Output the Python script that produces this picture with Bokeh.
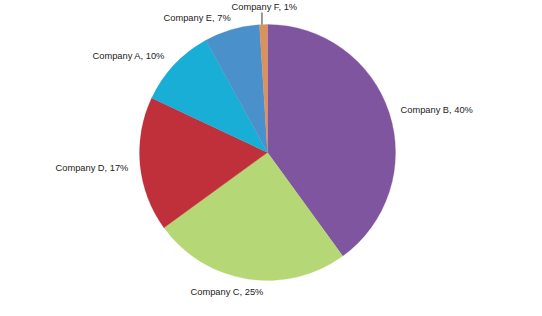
import math
from bokeh.plotting import figure
from bokeh.models import Range1d, ColumnDataSource
from bokeh.embed import file_html
from bokeh.resources import INLINE
from bokeh.core.properties import value

# Data (clockwise from 12 o'clock)
companies = ["Company B", "Company C", "Company D", "Company A", "Company E", "Company F"]
shares = [40, 25, 17, 10, 7, 1]
colors = ["#7f559f", "#b6d776", "#c0303a", "#18aed6", "#4a90ca", "#d9925e"]

# Layout (pixel space, y measured from top)
W, H = 542, 316
cx, cy, R = 267, 152, 128
label_pos = {  # left edge x, vertical centre y
    "Company B": (400, 109),
    "Company C": (190, 291),
    "Company D": (55, 167),
    "Company A": (92, 55),
    "Company E": (163, 17),
    "Company F": (231, 6),
}

total = float(sum(shares))
starts, ends = [], []
cum = 0.0
for s in shares:
    a0 = math.pi / 2 - 2 * math.pi * (cum + s) / total
    a1 = math.pi / 2 - 2 * math.pi * cum / total
    starts.append(a0)
    ends.append(a1)
    cum += s

src = ColumnDataSource(dict(start=starts, end=ends, color=colors))

p = figure(width=W, height=H, output_backend="svg", toolbar_location=None,
           x_range=Range1d(0, W), y_range=Range1d(0, H), min_border=0)
p.axis.visible = False
p.grid.visible = False
p.outline_line_color = None
p.background_fill_color = "white"

p.wedge(x=cx, y=H - cy, radius=R, start_angle="start", end_angle="end",
        fill_color="color", line_color="color", line_width=0.3, source=src)

labels = [f"{c}, {s}%" for c, s in zip(companies, shares)]
lx = [label_pos[c][0] for c in companies]
ly = [H - label_pos[c][1] for c in companies]
p.text(x=lx, y=ly, text=labels, text_font=value("Liberation Sans"),
       text_font_size="9.3px", text_color="#222222", text_align="left",
       text_baseline="middle")

# leader line for the small slice F
f_mid = (starts[-1] + ends[-1]) / 2
fx = cx + R * math.cos(f_mid) - 1.5
p.line(x=[fx, fx], y=[H - 12, H - (cy - R * math.sin(f_mid))], line_color="#333333",
       line_width=1)

open("out.html", "w").write(file_html(p, INLINE))
